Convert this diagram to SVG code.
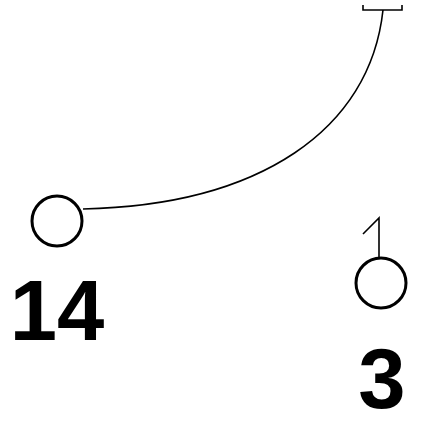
<svg xmlns="http://www.w3.org/2000/svg" width="423" height="426" viewBox="0 0 423 426">
<style>
.node{fill:#fff;stroke:#000;stroke-width:3}
.edge{fill:none;stroke:#000;stroke-width:1.6}
.lbl{font-family:"Liberation Sans",Arial,sans-serif;font-weight:bold;font-size:85px;text-anchor:middle;fill:#000}
</style>
<rect width="423" height="426" fill="#fff"/>
<g id="connectors">
<path class="edge" d="M383 10 C370 130 260 205 83 209"/>
<path class="edge" d="M363 5 V10 H402 V5" stroke-width="2.5"/>
<polyline class="edge" points="363,234 379,218 379,263"/>
</g>
<g id="node14">
<circle class="node" cx="57" cy="221" r="25"/>
<text class="lbl" x="57" y="340">14</text>
</g>
<g id="node3">
<circle class="node" cx="381" cy="283" r="25"/>
<text class="lbl" x="382" y="408">3</text>
</g>
</svg>
